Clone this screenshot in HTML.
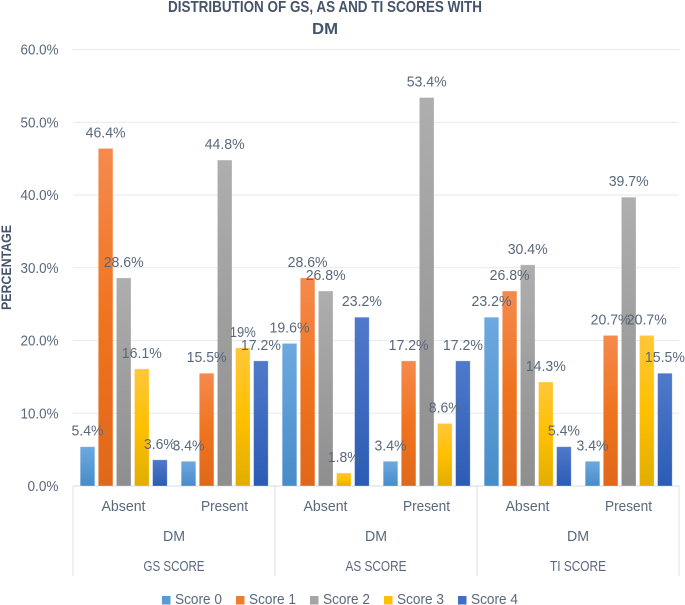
<!DOCTYPE html>
<html>
<head>
<meta charset="utf-8">
<style>
html,body{margin:0;padding:0;background:#fff;}
svg{display:block;}
text{font-family:"Liberation Sans",sans-serif;fill:#5a687c;}
</style>
</head>
<body>
<svg id="chart" xmlns="http://www.w3.org/2000/svg" width="685" height="605" viewBox="0 0 685 605">
<defs>
<linearGradient id="g0" x1="0" y1="0" x2="0" y2="1"><stop offset="0" stop-color="#6ea9e0"/><stop offset="1" stop-color="#478cc8"/></linearGradient>
<linearGradient id="g1" x1="0" y1="0" x2="0" y2="1"><stop offset="0" stop-color="#f58a4e"/><stop offset="0.5" stop-color="#f0741f"/><stop offset="1" stop-color="#e0681a"/></linearGradient>
<linearGradient id="g2" x1="0" y1="0" x2="0" y2="1"><stop offset="0" stop-color="#aeaeae"/><stop offset="1" stop-color="#8e8e8e"/></linearGradient>
<linearGradient id="g3" x1="0" y1="0" x2="0" y2="1"><stop offset="0" stop-color="#ffc73a"/><stop offset="0.5" stop-color="#ffc000"/><stop offset="1" stop-color="#e0ae00"/></linearGradient>
<linearGradient id="g4" x1="0" y1="0" x2="0" y2="1"><stop offset="0" stop-color="#5079ca"/><stop offset="1" stop-color="#2b5cb5"/></linearGradient>
</defs>
<text x="325" y="12" text-anchor="middle" font-size="15.5" font-weight="700" textLength="314" lengthAdjust="spacingAndGlyphs" style="fill:#44546a">DISTRIBUTION OF GS, AS AND TI SCORES WITH</text>
<text x="325" y="34" text-anchor="middle" font-size="15.5" font-weight="700" textLength="26" lengthAdjust="spacingAndGlyphs" style="fill:#44546a">DM</text>
<text transform="translate(11,267.5) rotate(-90)" text-anchor="middle" font-size="14" font-weight="700" textLength="85" lengthAdjust="spacingAndGlyphs" style="fill:#44546a">PERCENTAGE</text>
</svg>
<script>
const yTicks = [0, 10, 20, 30, 40, 50, 60];
const scoreGroups = ["GS SCORE", "AS SCORE", "TI SCORE"];
const dmStatus = ["Absent", "Present"];
const seriesNames = ["Score 0", "Score 1", "Score 2", "Score 3", "Score 4"];
const score0 = [5.4, 3.4, 19.6, 3.4, 23.2, 3.4];
const score1 = [46.4, 15.5, 28.6, 17.2, 26.8, 20.7];
const score2 = [28.6, 44.8, 26.8, 53.4, 30.4, 39.7];
const score3 = [16.1, 19, 1.8, 8.6, 14.3, 20.7];
const score4 = [3.6, 17.2, 23.2, 17.2, 5.4, 15.5];

const allSeries = [score0, score1, score2, score3, score4];
const legendColors = ["#5b9bd5", "#ed7d31", "#a5a5a5", "#ffc000", "#3f6ec3"];
const svg = document.getElementById('chart');
const NS = 'http://www.w3.org/2000/svg';
const plotLeft = 73, plotRight = 679, plotTop = 49.5, plotBottom = 486, axisMax = 60;
const catCount = scoreGroups.length * dmStatus.length;
const catWidth = (plotRight - plotLeft) / catCount;
const barWidth = 14.6, barStep = 18.1, barPad = 7.2;

function yScale(v) { return plotBottom - (v / axisMax) * (plotBottom - plotTop); }
function xCat(i) { return plotLeft + i * catWidth; }
function xBar(cat, s) { return xCat(cat) + barPad + s * barStep; }
function make(tag, attrs, txt) {
  const el = document.createElementNS(NS, tag);
  for (const k in attrs) el.setAttribute(k, attrs[k]);
  if (txt !== undefined) el.textContent = txt;
  svg.appendChild(el);
  return el;
}

yTicks.forEach(function (t) {
  const line = make('line', {x1: plotLeft, x2: plotRight, y1: yScale(t), y2: yScale(t), stroke: t === 0 ? '#d5dbe6' : '#e7e9f0', 'stroke-width': 1});
  
  
  const label = make('text', {x: 58.5, y: yScale(t) + 5, 'text-anchor': 'end', 'font-size': 14.5, textLength: t === 0 ? 31 : 38, lengthAdjust: 'spacingAndGlyphs'}, t.toFixed(1) + '%');
  
  
});

allSeries.forEach(function (values, s) {
  values.forEach(function (v, c) {
    const bar = make('rect', {x: xBar(c, s), y: yScale(v), width: barWidth, height: plotBottom - yScale(v), fill: 'url(#g' + s + ')', stroke: 'rgba(255,255,255,0.35)', 'stroke-width': 0.8});
    
    
  });
});

allSeries.forEach(function (values, s) {
  values.forEach(function (v, c) {
    const label = make('text', {x: xBar(c, s) + barWidth / 2, y: yScale(v) - 11, 'text-anchor': 'middle', 'font-size': 14.5, textLength: v === 19 ? 26 : (v < 10 ? 32 : 40), lengthAdjust: 'spacingAndGlyphs'}, v + '%');
    
    
  });
});

for (let i = 0; i <= scoreGroups.length; i++) {
  const x = xCat(i * dmStatus.length);
  const sep = make('line', {x1: x, x2: x, y1: plotBottom, y2: 576, stroke: '#dde1ea', 'stroke-width': 1});
  
  
}

scoreGroups.forEach(function (g, gi) {
  dmStatus.forEach(function (d, di) {
    const cat = make('text', {x: xCat(gi * dmStatus.length + di) + catWidth / 2, y: 511, 'text-anchor': 'middle', 'font-size': 14.5, textLength: d === 'Absent' ? 44 : 47, lengthAdjust: 'spacingAndGlyphs'}, d);
    
    
  });
  const cx = xCat(gi * dmStatus.length) + catWidth * dmStatus.length / 2;
  const dm = make('text', {x: cx, y: 541, 'text-anchor': 'middle', 'font-size': 14.5, textLength: 22, lengthAdjust: 'spacingAndGlyphs'}, 'DM');
  
  
  const group = make('text', {x: cx, y: 571, 'text-anchor': 'middle', 'font-size': 14.5, textLength: g === 'TI SCORE' ? 56 : 61, lengthAdjust: 'spacingAndGlyphs'}, g);
  
  
});

seriesNames.forEach(function (n, i) {
  const x = 162 + i * 74;
  const swatch = make('rect', {x: x, y: 596, width: 8.5, height: 8.5, fill: legendColors[i]});
  
  
  const label = make('text', {x: x + 13, y: 604, 'font-size': 14.5, textLength: 47, lengthAdjust: 'spacingAndGlyphs'}, n);
  
  
});
</script>
</body>
</html>
